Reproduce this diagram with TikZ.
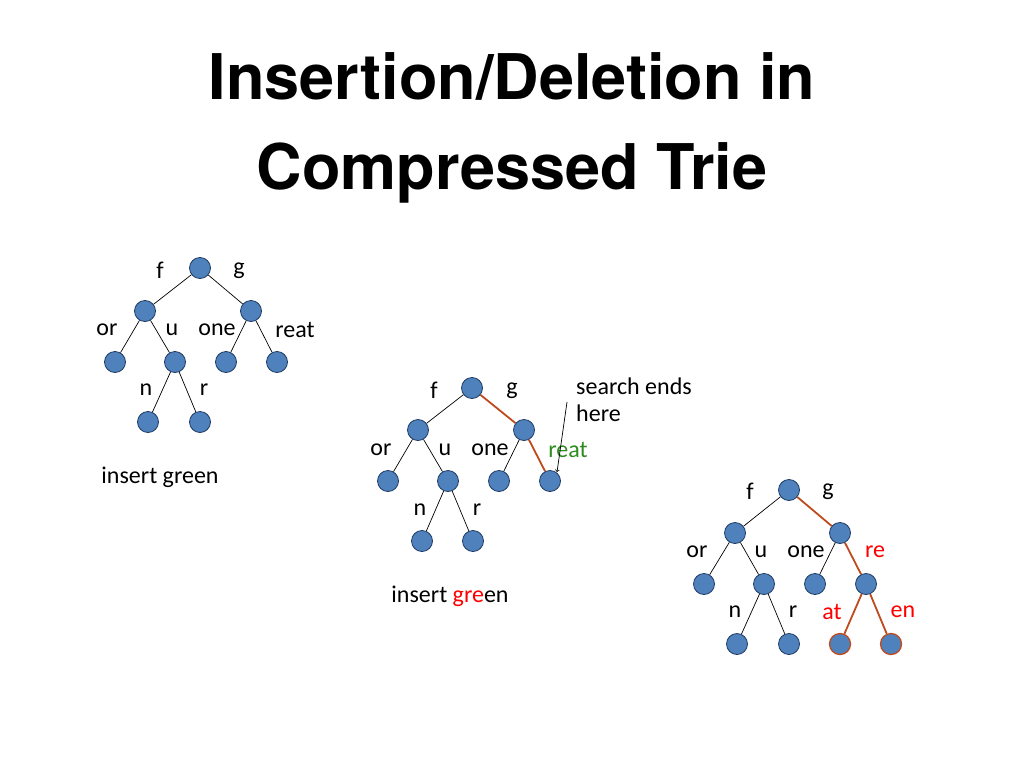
\documentclass[tikz,border=0pt]{standalone}
\usepackage{fontspec}
\setmainfont{Carlito}
\newfontfamily\titlefont{TeX Gyre Heros}
\definecolor{nfill}{HTML}{4F81BD}
\definecolor{nline}{HTML}{1F3B63}
\definecolor{hl}{HTML}{BE4B1E}
\definecolor{rtxt}{HTML}{FF0000}
\definecolor{gtxt}{HTML}{2E8B1E}
\begin{document}
\begin{tikzpicture}[x=1pt,y=-1pt,
  tn/.style={circle,fill=nfill,draw=nline,line width=0.8pt,minimum size=21pt,inner sep=0pt},
  tnr/.style={tn,draw=hl,line width=1.3pt},
  lab/.style={font=\fontsize{24}{28}\selectfont,inner sep=0pt},
  ed/.style={draw=black,line width=0.7pt},
  red/.style={draw=hl,line width=1.8pt}]
\useasboundingbox (0,0) rectangle (1024,768);
\node[font=\titlefont\bfseries\fontsize{63}{90}\selectfont,align=center] (title) at (512,128) {Insertion/Deletion in\\Compressed Trie};
% tree 1
\node[tn] (a0) at (200,268) {};
\node[tn] (a1) at (145,311) {}; \node[tn] (a2) at (251,311) {};
\node[tn] (a3) at (115,362) {}; \node[tn] (a4) at (175,362) {};
\node[tn] (a5) at (226,362) {}; \node[tn] (a6) at (277,362) {};
\node[tn] (a7) at (148,422) {}; \node[tn] (a8) at (200,422) {};
\draw[ed] (a0)--(a1); \draw[ed] (a0)--(a2); \draw[ed] (a1)--(a3); \draw[ed] (a1)--(a4);
\draw[ed] (a2)--(a5); \draw[ed] (a2)--(a6); \draw[ed] (a4)--(a7); \draw[ed] (a4)--(a8);
\node[lab] (af) at (160,270) {f}; \node[lab] (ag) at (239,271) {g};
\node[lab] (aor) at (107,330) {or}; \node[lab] (au) at (172,330) {u};
\node[lab] (aone) at (217,330) {one}; \node[lab] (areat) at (295,330) {reat};
\node[lab] (an) at (146,390) {n}; \node[lab] (ar) at (204,390) {r};
\node[lab] (ains) at (160,477) {insert green};
% tree 2
\node[tn] (b0) at (472,388) {};
\node[tn] (b1) at (418,430) {}; \node[tn] (b2) at (524,430) {};
\node[tn] (b3) at (388,481) {}; \node[tn] (b4) at (448,481) {};
\node[tn] (b5) at (499,481) {}; \node[tn] (b6) at (550,481) {};
\node[tn] (b7) at (422,541) {}; \node[tn] (b8) at (473,541) {};
\draw[ed] (b0)--(b1); \draw[red] (b0)--(b2); \draw[ed] (b1)--(b3); \draw[ed] (b1)--(b4);
\draw[ed] (b2)--(b5); \draw[red] (b2)--(b6); \draw[ed] (b4)--(b7); \draw[ed] (b4)--(b8);
\node[lab] (bf) at (434,390) {f}; \node[lab] (bg) at (512,391) {g};
\node[lab] (bor) at (381,450) {or}; \node[lab] (bu) at (445,450) {u};
\node[lab] (bone) at (490,450) {one}; \node[lab,text=gtxt] (breat) at (568,450) {reat};
\node[lab] (bn) at (420,510) {n}; \node[lab] (br) at (477,510) {r};
\node[lab,align=left,anchor=north west] (se) at (576,378) {search ends\\[-1pt]here};
\coordinate (sa) at (567,402);
\coordinate (sb) at (557,472);
\draw[ed,->] (sa) -- (sb);
\node[lab] (bins) at (450,596) {insert \textcolor{rtxt}{gre}en};
% tree 3
\node[tn] (c0) at (789,490) {};
\node[tn] (c1) at (735,533) {}; \node[tn] (c2) at (840,533) {};
\node[tn] (c3) at (704,584) {}; \node[tn] (c4) at (764,584) {};
\node[tn] (c5) at (815,584) {}; \node[tn] (c6) at (866,584) {};
\node[tn] (c7) at (737,644) {}; \node[tn] (c8) at (789,644) {};
\node[tnr] (c9) at (840,644) {}; \node[tnr] (c10) at (891,644) {};
\draw[ed] (c0)--(c1); \draw[red] (c0)--(c2); \draw[ed] (c1)--(c3); \draw[ed] (c1)--(c4);
\draw[ed] (c2)--(c5); \draw[red] (c2)--(c6); \draw[ed] (c4)--(c7); \draw[ed] (c4)--(c8);
\draw[red] (c6)--(c9); \draw[red] (c6)--(c10);
\node[lab] (cf) at (750,491) {f}; \node[lab] (cg) at (828,492) {g};
\node[lab] (cor) at (697,552) {or}; \node[lab] (cu) at (761,552) {u};
\node[lab] (cone) at (806,552) {one}; \node[lab,text=rtxt] (cre) at (875,552) {re};
\node[lab] (cn) at (735,612) {n}; \node[lab] (cr) at (793,612) {r};
\node[lab,text=rtxt] (cat) at (832,612) {at}; \node[lab,text=rtxt] (cen) at (903,612) {en};
\end{tikzpicture}
\end{document}
